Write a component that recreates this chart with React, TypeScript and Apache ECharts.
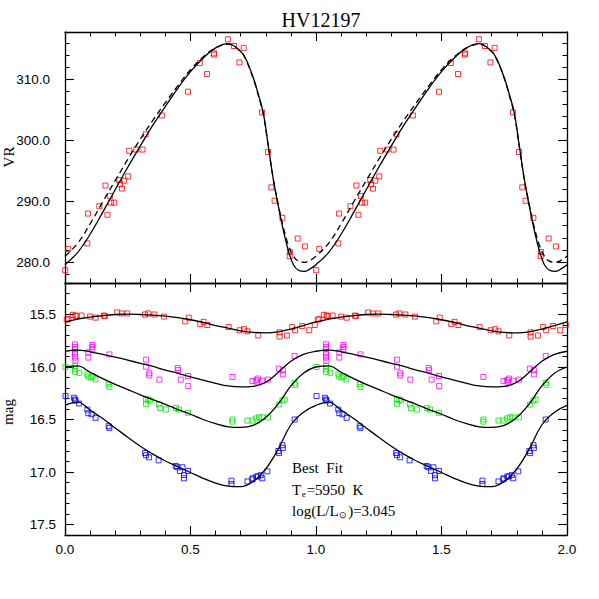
import React, { useEffect, useRef } from 'react';
import * as echarts from 'echarts';

// ---------- Top panel (radial velocity) observations, phase 0..1 ----------
const VR_PHASE = [0.001, 0.013, 0.089, 0.092, 0.137, 0.161, 0.169, 0.179, 0.183, 0.196, 0.216, 0.219, 0.227, 0.236, 0.252, 0.256, 0.284, 0.309, 0.321, 0.386, 0.490, 0.537, 0.566, 0.593, 0.594, 0.649, 0.673, 0.695, 0.712, 0.785, 0.809, 0.822, 0.835, 0.866, 0.895, 0.896, 0.927, 0.956];
const VR_VALUE = [278.7, 282.2, 283.1, 288.0, 289.2, 292.6, 287.8, 290.9, 289.8, 289.8, 293.5, 292.8, 292.1, 293.4, 294.1, 298.3, 298.5, 298.5, 301.0, 304.1, 308.0, 312.7, 310.9, 314.1, 314.3, 316.6, 315.5, 312.8, 315.2, 304.6, 298.1, 292.3, 290.1, 287.3, 281.0, 281.7, 283.9, 282.6];

// model curves (top panel)
const VR_CURVE_PHASE = [0, 0.05, 0.10, 0.15, 0.20, 0.25, 0.30, 0.35, 0.40, 0.45, 0.50, 0.55, 0.60, 0.65, 0.70, 0.72, 0.75, 0.77, 0.79, 0.81, 0.83, 0.85, 0.87, 0.89, 0.91, 0.93, 0.955, 0.98, 1.0];
const VR_SOLID = [279.6, 281.6, 284.6, 288.2, 291.9, 295.6, 299.1, 302.5, 305.6, 308.6, 311.3, 313.5, 315.2, 315.9, 314.6, 313.4, 310.3, 307.6, 304.5, 299.1, 293.6, 289.2, 285.2, 281.9, 279.6, 278.7, 278.5, 279.0, 279.6];
const VR_DASHED = [281.0, 283.1, 286.3, 289.9, 293.4, 296.9, 300.2, 303.3, 306.2, 309.0, 311.6, 313.7, 315.2, 315.8, 314.6, 313.3, 310.2, 307.4, 304.3, 299.0, 293.6, 289.4, 285.7, 282.8, 281.0, 280.2, 280.0, 280.4, 281.0];

// ---------- Bottom panel (light curves) observations, phase 0..1 ----------
const RED_PHASE = [0.007, 0.013, 0.031, 0.042, 0.046, 0.066, 0.100, 0.122, 0.155, 0.159, 0.208, 0.226, 0.248, 0.319, 0.332, 0.356, 0.394, 0.479, 0.493, 0.539, 0.552, 0.567, 0.652, 0.696, 0.713, 0.727, 0.770, 0.855, 0.855, 0.884, 0.905, 0.917, 0.945, 0.973, 0.995];
const RED_MAG = [15.548, 15.545, 15.503, 15.51, 15.515, 15.51, 15.52, 15.53, 15.51, 15.515, 15.48, 15.49, 15.49, 15.50, 15.49, 15.50, 15.52, 15.565, 15.53, 15.59, 15.57, 15.60, 15.62, 15.65, 15.64, 15.66, 15.70, 15.67, 15.71, 15.70, 15.62, 15.65, 15.61, 15.65, 15.60];

const MAG_PHASE = [0.040, 0.040, 0.040, 0.040, 0.040, 0.040, 0.042, 0.109, 0.109, 0.109, 0.093, 0.093, 0.177, 0.323, 0.323, 0.336, 0.336, 0.376, 0.449, 0.451, 0.461, 0.490, 0.491, 0.667, 0.747, 0.762, 0.764, 0.769, 0.786, 0.809, 0.852, 0.868, 0.868, 0.915];
const MAG_MAG = [15.784, 15.81, 15.83, 15.86, 15.88, 15.91, 15.94, 15.79, 15.81, 15.83, 15.86, 15.91, 15.88, 15.93, 15.997, 16.06, 16.08, 16.12, 16.01, 16.03, 16.12, 16.086, 16.18, 16.095, 16.134, 16.125, 16.14, 16.11, 16.13, 16.12, 16.016, 16.03, 16.07, 15.895];

const GREEN_PHASE = [0.002, 0.040, 0.040, 0.040, 0.057, 0.089, 0.093, 0.102, 0.110, 0.121, 0.174, 0.177, 0.323, 0.323, 0.332, 0.338, 0.374, 0.378, 0.402, 0.442, 0.454, 0.490, 0.667, 0.667, 0.727, 0.747, 0.762, 0.773, 0.786, 0.809, 0.852, 0.866, 0.875, 0.915, 0.918];
const GREEN_MAG = [16.00, 15.99, 16.02, 16.045, 16.055, 16.07, 16.09, 16.10, 16.09, 16.118, 16.166, 16.19, 16.31, 16.35, 16.31, 16.32, 16.357, 16.39, 16.405, 16.39, 16.405, 16.436, 16.50, 16.52, 16.51, 16.51, 16.49, 16.48, 16.48, 16.48, 16.357, 16.32, 16.31, 16.15, 16.17];

const BLUE_PHASE = [0.002, 0.036, 0.040, 0.042, 0.056, 0.089, 0.093, 0.106, 0.122, 0.174, 0.177, 0.319, 0.323, 0.335, 0.373, 0.441, 0.447, 0.458, 0.468, 0.474, 0.474, 0.490, 0.663, 0.663, 0.727, 0.747, 0.747, 0.762, 0.769, 0.780, 0.786, 0.806, 0.850, 0.853, 0.866, 0.868, 0.915];
const BLUE_MAG = [16.277, 16.293, 16.31, 16.32, 16.348, 16.405, 16.44, 16.45, 16.484, 16.564, 16.58, 16.819, 16.84, 16.86, 16.889, 16.943, 16.955, 16.99, 16.955, 17.03, 17.06, 16.99, 17.083, 17.115, 17.09, 17.07, 17.06, 17.045, 17.04, 17.03, 17.06, 16.994, 16.80, 16.82, 16.745, 16.77, 16.50];

// model curves (bottom panel)
const MAG_CURVE_PHASE = [0, 0.05, 0.10, 0.15, 0.20, 0.25, 0.30, 0.35, 0.40, 0.45, 0.50, 0.55, 0.60, 0.65, 0.70, 0.75, 0.80, 0.85, 0.90, 0.95, 1.0];
const RED_CURVE = [15.57, 15.545, 15.525, 15.51, 15.50, 15.497, 15.50, 15.505, 15.515, 15.53, 15.55, 15.575, 15.605, 15.63, 15.655, 15.67, 15.675, 15.665, 15.64, 15.605, 15.57];
const MAGENTA_CURVE = [15.85, 15.84, 15.855, 15.88, 15.905, 15.935, 15.965, 15.995, 16.03, 16.06, 16.095, 16.125, 16.155, 16.18, 16.19, 16.185, 16.145, 16.05, 15.945, 15.88, 15.85];
const GREEN_CURVE = [16.00, 15.99, 16.05, 16.11, 16.165, 16.215, 16.265, 16.31, 16.355, 16.405, 16.45, 16.50, 16.54, 16.57, 16.575, 16.555, 16.48, 16.35, 16.18, 16.06, 16.00];
const BLUE_CURVE = [16.365, 16.335, 16.41, 16.49, 16.58, 16.67, 16.755, 16.83, 16.895, 16.95, 17.005, 17.06, 17.105, 17.135, 17.14, 17.09, 16.97, 16.78, 16.55, 16.43, 16.365];

const TITLE = 'HV12197';

function dupPoints(ph: number[], v: number[]) {
  const out: number[][] = [];
  for (let k = 0; k < 2; k++) for (let i = 0; i < ph.length; i++) out.push([ph[i] + k, v[i]]);
  return out;
}
function dupCurve(ph: number[], v: number[]) {
  const out: number[][] = [];
  for (let k = 0; k < 2; k++)
    for (let i = 0; i < ph.length; i++) {
      if (k === 1 && i === 0) continue;
      out.push([ph[i] + k, v[i]]);
    }
  return out;
}

const SERIF = '"Liberation Serif", "Times New Roman", serif';
const SANS = '"Liberation Sans", Arial, sans-serif';

export default function App() {
  const ref = useRef<HTMLDivElement>(null);
  useEffect(() => {
    if (!ref.current) return;
    const chart = echarts.init(ref.current, undefined, { renderer: 'svg' });
    const cv = document.createElement('canvas').getContext('2d')!;
    const tw = (s: string, size: number) => {
      cv.font = `${size}px ${SERIF}`;
      return cv.measureText(s).width;
    };

    const lineStyle = { color: '#000', width: 1.3 };
    const xAxis = (gridIndex: number, position: string, showLabel: boolean) => ({
      type: 'value', gridIndex, position, min: 0, max: 2, interval: 0.5,
      axisLine: { show: true, onZero: false, lineStyle },
      axisTick: { show: true, inside: true, length: 9, lineStyle: { color: '#000', width: 1.1 } },
      minorTick: { show: true, splitNumber: 5, length: 4.5, lineStyle: { color: '#000', width: 1 } },
      splitLine: { show: false }, minorSplitLine: { show: false },
      axisLabel: {
        show: showLabel, margin: 7, color: '#000', fontSize: 13.5, fontFamily: SANS,
        formatter: (v: number) => v.toFixed(1),
      },
    });
    const yAxis = (gridIndex: number, position: string, showLabel: boolean, min: number, max: number,
      inverse: boolean, step: number, margin: number) => ({
      type: 'value', gridIndex, position, min, max, inverse,
      axisLine: { show: true, onZero: false, lineStyle },
      axisTick: { show: true, inside: true, length: 9, lineStyle: { color: '#000', width: 1.1 } },
      minorTick: { show: true, splitNumber: 5, length: 4.5, lineStyle: { color: '#000', width: 1 } },
      splitLine: { show: false }, minorSplitLine: { show: false },
      axisLabel: {
        show: showLabel, margin, color: '#000', fontSize: 13.5, fontFamily: SANS,
        showMinLabel: true, showMaxLabel: true,
        formatter: (v: number) => {
          const r = v / step;
          return Math.abs(r - Math.round(r)) < 1e-6 ? v.toFixed(1) : '';
        },
      },
    });

    const scatter = (xi: number, data: number[][], color: string) => ({
      type: 'scatter', xAxisIndex: xi, yAxisIndex: xi, data, symbol: 'rect', symbolSize: 5,
      itemStyle: { color: 'rgba(0,0,0,0)', borderColor: color, borderWidth: 1 },
      z: 2, silent: true,
    });
    const curve = (xi: number, data: number[][], dashed: boolean) => ({
      type: 'line', xAxisIndex: xi, yAxisIndex: xi, data, showSymbol: false, symbol: 'none',
      smooth: 0.4, lineStyle: { color: '#000', width: 1.3, type: dashed ? [6, 4] : 'solid' },
      z: 3, silent: true,
    });

    const x0 = 292;
    const subSize = 9;
    const fs = 15;
    const txt = (text: string, x: number, y: number, size: number, extra: any = {}) => ({
      type: 'text', x, y, ...extra,
      style: { text, fontSize: size, fontFamily: SERIF, fill: '#000', align: 'left', verticalAlign: 'middle', ...(extra.style || {}) },
    });
    const tW = tw('T', fs);
    const eW = tw('e', subSize);
    const logW = tw('log(L/L', fs);
    const sunW = tw('\u2299', subSize);

    chart.setOption({
      animation: false,
      grid: [
        { left: 65, top: 32, width: 502, height: 251 },
        { left: 65, top: 283, width: 502, height: 252 },
      ],
      xAxis: [xAxis(0, 'bottom', false), xAxis(1, 'bottom', true), xAxis(0, 'top', false), xAxis(1, 'top', false)],
      yAxis: [
        yAxis(0, 'left', true, 276.6, 317.8, false, 10, 15),
        yAxis(1, 'left', true, 15.2, 17.6, true, 0.5, 9),
        yAxis(0, 'right', false, 276.6, 317.8, false, 10, 15),
        yAxis(1, 'right', false, 15.2, 17.6, true, 0.5, 9),
      ],
      series: [
        scatter(0, dupPoints(VR_PHASE, VR_VALUE), '#ff0000'),
        curve(0, dupCurve(VR_CURVE_PHASE, VR_DASHED), true),
        curve(0, dupCurve(VR_CURVE_PHASE, VR_SOLID), false),
        scatter(1, dupPoints(RED_PHASE, RED_MAG), '#ff0000'),
        scatter(1, dupPoints(MAG_PHASE, MAG_MAG), '#ff00ff'),
        scatter(1, dupPoints(GREEN_PHASE, GREEN_MAG), '#00e600'),
        scatter(1, dupPoints(BLUE_PHASE, BLUE_MAG), '#0000ff'),
        curve(1, dupCurve(MAG_CURVE_PHASE, RED_CURVE), false),
        curve(1, dupCurve(MAG_CURVE_PHASE, MAGENTA_CURVE), false),
        curve(1, dupCurve(MAG_CURVE_PHASE, GREEN_CURVE), false),
        curve(1, dupCurve(MAG_CURVE_PHASE, BLUE_CURVE), false),
      ],
      graphic: [
        txt(TITLE, 321, 20, 20, { style: { align: 'center' } }),
        txt('VR', 9, 157, 15, { rotation: Math.PI / 2, style: { align: 'center' } }),
        txt('mag', 8, 412, 15, { rotation: Math.PI / 2, style: { align: 'center' } }),
        txt('Best  Fit', x0, 468, fs),
        txt('T', x0, 490, fs),
        txt('e', x0 + tW + 0.5, 494, subSize),
        txt('=5950  K', x0 + tW + eW + 1.5, 490, fs),
        txt('log(L/L', x0, 511, fs),
        txt('\u2299', x0 + logW + 0.5, 515, subSize),
        txt(')=3.045', x0 + logW + sunW + 1.5, 511, fs),
      ],
    });
    return () => chart.dispose();
  }, []);
  return <div ref={ref} style={{ position: 'absolute', left: 0, top: 0, width: 599, height: 599, background: '#fff' }} />;
}
